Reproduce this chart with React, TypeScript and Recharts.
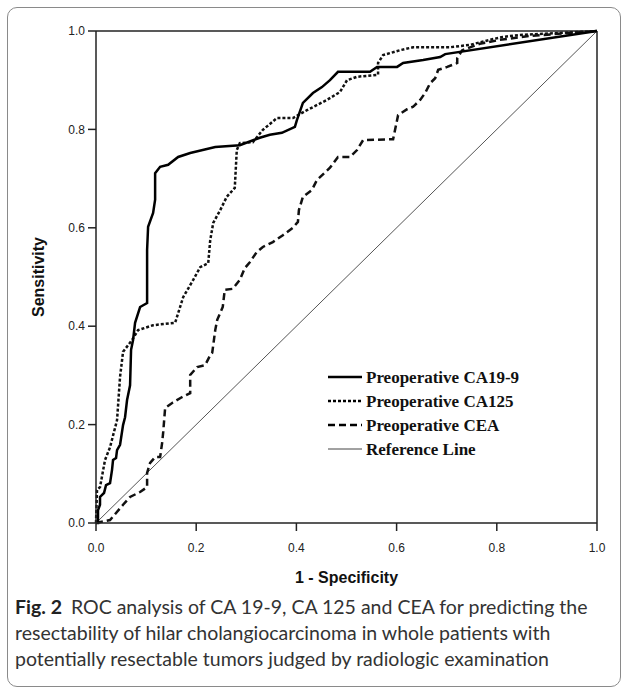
import { Line, LineChart, ReferenceLine, XAxis, YAxis } from 'recharts'

// ROC points (1 - specificity, sensitivity)
const ca199Fpr = [0, 0.004, 0.004, 0.008, 0.008, 0.016, 0.02, 0.028, 0.032, 0.034, 0.04, 0.042, 0.048, 0.054, 0.058, 0.062, 0.068, 0.07, 0.074, 0.078, 0.088, 0.102, 0.102, 0.104, 0.114, 0.118, 0.118, 0.128, 0.144, 0.164, 0.188, 0.238, 0.287, 0.327, 0.347, 0.371, 0.397, 0.401, 0.413, 0.433, 0.451, 0.467, 0.483, 0.547, 0.561, 0.601, 0.613, 0.653, 0.687, 0.697, 1]
const ca199Tpr = [0, 0, 0.026, 0.037, 0.053, 0.061, 0.077, 0.081, 0.108, 0.128, 0.132, 0.148, 0.159, 0.199, 0.215, 0.25, 0.28, 0.352, 0.372, 0.407, 0.439, 0.447, 0.555, 0.602, 0.63, 0.657, 0.711, 0.724, 0.728, 0.744, 0.752, 0.764, 0.768, 0.783, 0.789, 0.793, 0.805, 0.819, 0.854, 0.874, 0.886, 0.9, 0.917, 0.917, 0.927, 0.927, 0.935, 0.941, 0.947, 0.953, 1]

const ca125Fpr = [0, 0.002, 0.008, 0.018, 0.028, 0.042, 0.048, 0.054, 0.072, 0.084, 0.114, 0.158, 0.174, 0.194, 0.208, 0.224, 0.228, 0.234, 0.248, 0.261, 0.277, 0.281, 0.287, 0.313, 0.333, 0.361, 0.393, 0.421, 0.461, 0.487, 0.501, 0.521, 0.563, 0.563, 0.573, 0.607, 0.633, 0.707, 0.747, 0.786, 0.812, 0.846, 0.926, 1]
const ca125Tpr = [0, 0.067, 0.073, 0.128, 0.154, 0.209, 0.297, 0.348, 0.372, 0.392, 0.402, 0.407, 0.459, 0.494, 0.52, 0.528, 0.575, 0.61, 0.636, 0.663, 0.681, 0.758, 0.772, 0.774, 0.799, 0.823, 0.823, 0.839, 0.86, 0.876, 0.9, 0.907, 0.911, 0.935, 0.951, 0.961, 0.967, 0.967, 0.972, 0.982, 0.988, 0.992, 0.996, 1]

const ceaFpr = [0, 0.028, 0.054, 0.068, 0.088, 0.102, 0.102, 0.108, 0.118, 0.128, 0.132, 0.134, 0.138, 0.152, 0.172, 0.188, 0.188, 0.202, 0.218, 0.228, 0.232, 0.238, 0.242, 0.253, 0.257, 0.273, 0.287, 0.297, 0.307, 0.321, 0.333, 0.353, 0.373, 0.393, 0.403, 0.405, 0.413, 0.431, 0.441, 0.467, 0.483, 0.507, 0.521, 0.533, 0.593, 0.601, 0.603, 0.621, 0.633, 0.647, 0.657, 0.667, 0.677, 0.683, 0.701, 0.721, 0.721, 0.731, 0.766, 0.806, 0.866, 1]
const ceaTpr = [0, 0.006, 0.037, 0.053, 0.063, 0.073, 0.102, 0.122, 0.134, 0.134, 0.163, 0.183, 0.234, 0.244, 0.256, 0.264, 0.301, 0.317, 0.321, 0.341, 0.346, 0.392, 0.413, 0.439, 0.474, 0.476, 0.494, 0.518, 0.53, 0.551, 0.561, 0.571, 0.585, 0.6, 0.612, 0.636, 0.663, 0.677, 0.697, 0.722, 0.744, 0.744, 0.758, 0.778, 0.78, 0.819, 0.829, 0.841, 0.846, 0.86, 0.874, 0.894, 0.904, 0.921, 0.927, 0.935, 0.945, 0.961, 0.974, 0.982, 0.99, 1]

const refFpr = [0, 1]
const refTpr = [0, 1]

const axisTicks = [0, 0.2, 0.4, 0.6, 0.8, 1]

const legendItems = [
  { name: 'Preoperative CA19-9', dash: undefined, width: 2.5 },
  { name: 'Preoperative CA125', dash: '3 2', width: 2.5 },
  { name: 'Preoperative CEA', dash: '7 4', width: 2.5 },
  { name: 'Reference Line', dash: undefined, width: 1 },
]

const captionLines = [
  'ROC analysis of CA 19-9, CA 125 and CEA for predicting the',
  'resectability of hilar cholangiocarcinoma in whole patients with',
  'potentially resectable tumors judged by radiologic examination',
]

const toPoints = (xs: number[], ys: number[]) => xs.map((x, i) => ({ x, y: ys[i] }))

const tickStyle = { fontSize: 12, fill: '#222', fontFamily: 'Liberation Sans, Arial, sans-serif' }

function RocLegend() {
  return (
    <svg width={200} height={100} style={{ position: 'absolute', left: 326, top: 366 }}>
      {legendItems.map((it, i) => (
        <g key={it.name}>
          <line
            x1={2}
            x2={36}
            y1={11 + i * 24}
            y2={11 + i * 24}
            stroke={it.width < 2 ? '#444' : '#000'}
            strokeWidth={it.width}
            strokeDasharray={it.dash}
          />
          <text
            x={40}
            y={17 + i * 24}
            fontSize={17}
            fontWeight="bold"
            fontFamily="Liberation Serif, Times New Roman, serif"
            fill="#111"
          >
            {it.name}
          </text>
        </g>
      ))}
    </svg>
  )
}

export default function App() {
  return (
    <div style={{ position: 'absolute', left: 0, top: 0, width: 626, height: 687, background: '#fff', overflow: 'hidden' }}>
      <div
        style={{
          position: 'absolute',
          left: 7,
          top: 7,
          width: 612,
          height: 678,
          border: '1px solid #8a8a8a',
          borderRadius: 10,
        }}
      />
      <div style={{ position: 'absolute', left: 0, top: 0 }}>
        <LineChart width={626} height={600} margin={{ top: 31, right: 29, left: 36, bottom: 17 }}>
          <XAxis
            type="number"
            dataKey="x"
            domain={[0, 1]}
            ticks={axisTicks}
            tickFormatter={(v: number) => v.toFixed(1)}
            tick={tickStyle}
            tickSize={8}
            tickMargin={12}
            height={60}
            stroke="#222"
            strokeWidth={1.5}
            label={({ viewBox }: any) => (
              <text
                x={viewBox.x + viewBox.width / 2}
                y={583}
                textAnchor="middle"
                fontSize={16}
                fontWeight="bold"
                fontFamily="Liberation Sans, Arial, sans-serif"
                fill="#111"
              >
                1 - Specificity
              </text>
            )}
          />
          <YAxis
            type="number"
            dataKey="y"
            domain={[0, 1]}
            ticks={axisTicks}
            tickFormatter={(v: number) => v.toFixed(1)}
            tick={tickStyle}
            tickSize={8}
            tickMargin={3}
            width={60}
            stroke="#222"
            strokeWidth={1.5}
            label={({ viewBox }: any) => (
              <text
                x={44}
                y={viewBox.y + viewBox.height / 2}
                transform={`rotate(-90 44 ${viewBox.y + viewBox.height / 2})`}
                textAnchor="middle"
                fontSize={16}
                fontWeight="bold"
                fontFamily="Liberation Sans, Arial, sans-serif"
                fill="#111"
              >
                Sensitivity
              </text>
            )}
          />
          <ReferenceLine y={1} stroke="#222" strokeWidth={1.5} />
          <ReferenceLine x={1} stroke="#222" strokeWidth={1.5} />
          <Line
            data={toPoints(refFpr, refTpr)}
            dataKey="y"
            stroke="#555"
            strokeWidth={1}
            dot={false}
            isAnimationActive={false}
            name="Reference Line"
          />
          <Line
            data={toPoints(ceaFpr, ceaTpr)}
            dataKey="y"
            stroke="#111"
            strokeWidth={2.5}
            strokeDasharray="7 4"
            dot={false}
            isAnimationActive={false}
            name="Preoperative CEA"
          />
          <Line
            data={toPoints(ca125Fpr, ca125Tpr)}
            dataKey="y"
            stroke="#111"
            strokeWidth={2.5}
            strokeDasharray="3 2"
            dot={false}
            isAnimationActive={false}
            name="Preoperative CA125"
          />
          <Line
            data={toPoints(ca199Fpr, ca199Tpr)}
            dataKey="y"
            stroke="#000"
            strokeWidth={2.5}
            dot={false}
            isAnimationActive={false}
            name="Preoperative CA19-9"
          />
        </LineChart>
      </div>
      <RocLegend />
      <svg style={{ position: 'absolute', left: 0, top: 590 }} width={626} height={97}>
        <g fontFamily="Lato, Open Sans, sans-serif" fontSize={19.5} fill="#333">
          <text x={15} y={24}>
            <tspan fontWeight="bold" fill="#222">
              Fig. 2
            </tspan>
            <tspan dx={9}>{captionLines[0]}</tspan>
          </text>
          <text x={15} y={50}>
            {captionLines[1]}
          </text>
          <text x={15} y={76}>
            {captionLines[2]}
          </text>
        </g>
      </svg>
    </div>
  )
}
